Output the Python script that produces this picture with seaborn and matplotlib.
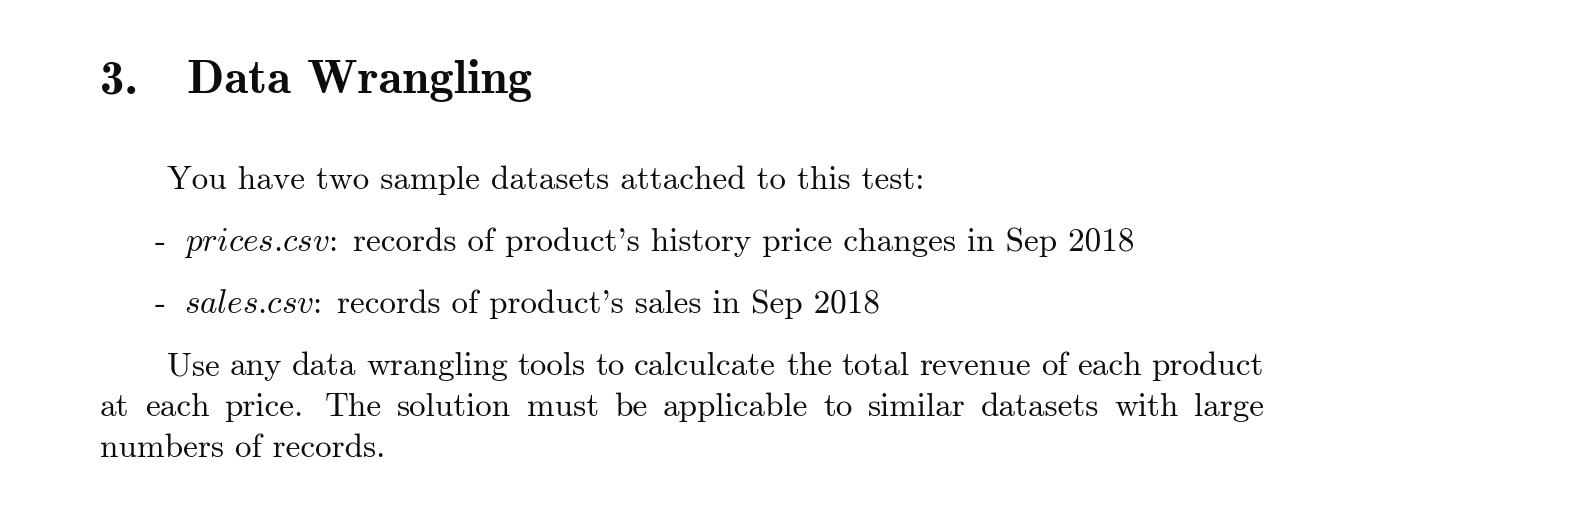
import seaborn as sns
import matplotlib.pyplot as plt

# Section text
heading_number = '3.'
heading_title = 'Data Wrangling'
intro_line = 'You have two sample datasets attached to this test:'
item_files = ['prices.csv', 'sales.csv']
item_notes = ["records of product's history price changes in Sep 2018",
              "records of product's sales in Sep 2018"]
para_lines = ['Use any data wrangling tools to calculcate the total revenue of each product',
              'at each price.  The solution must be applicable to similar datasets with large',
              'numbers of records.']
para_justify = [True, True, False]

sns.set_theme(style='white')
plt.rcParams['font.family'] = ['cmr10', 'DejaVu Serif']
plt.rcParams['mathtext.fontset'] = 'cm'
plt.rcParams['axes.formatter.use_mathtext'] = True

W, H = 1572, 524
fig = plt.figure(figsize=(W / 100, H / 100), dpi=100)
fig.patch.set_facecolor('white')
ax = fig.add_axes([0, 0, 1, 1])
ax.set_xlim(0, W)
ax.set_ylim(H, 0)
ax.axis('off')
renderer = fig.canvas.get_renderer()
ink = '#0d0d0d'


def put(x, y, s, size, family=None):
    t = ax.text(x, y, s, fontsize=size, va='baseline', ha='left', color=ink,
                family=family or ['cmr10', 'DejaVu Serif'])
    return t


def width(t):
    return t.get_window_extent(renderer).width


def fit_size(s, target, family=None):
    t = put(0, 0, s, 10, family)
    w = width(t)
    t.remove()
    return 10 * target / w


# sizes fitted to measured widths in the reference
head_size = fit_size(heading_title, 344, ['cmb10', 'DejaVu Serif'])
body_size = fit_size(intro_line, 755)

# heading
put(100, 93, heading_number, head_size, ['cmb10', 'DejaVu Serif'])
put(187, 93, heading_title, head_size, ['cmb10', 'DejaVu Serif'])

# intro
put(167, 189, intro_line, body_size)

# items (file names in math italic; cancel mathtext's space after the dot)
item_y = [251, 313]
for fname, note, y in zip(item_files, item_notes, item_y):
    put(155, y, '-', body_size)
    t = put(184, y, '$' + fname.replace('.', r'.\hspace{-0.2}') + '$', body_size)
    cx = 184 + width(t) - 2
    c = put(cx, y, ':', body_size)
    put(cx + width(c) + 16, y, note, body_size)

# paragraph, justified like TeX
para_x = [167, 100, 100]
para_y = [375, 416, 457]
right_edge = 1264
for line, x0, y, just in zip(para_lines, para_x, para_y, para_justify):
    if not just:
        put(x0, y, line, body_size)
        continue
    words = line.split()
    objs = [put(0, y, w, body_size) for w in words]
    widths = [width(o) for o in objs]
    weights = [1.4 if w.endswith('.') else 1.0 for w in words[:-1]]
    unit = (right_edge - x0 - sum(widths)) / sum(weights)
    x = x0
    for i, o in enumerate(objs):
        o.set_x(x)
        if i < len(weights):
            x += widths[i] + unit * weights[i]

fig.savefig('out.png', dpi=100, facecolor='white')
